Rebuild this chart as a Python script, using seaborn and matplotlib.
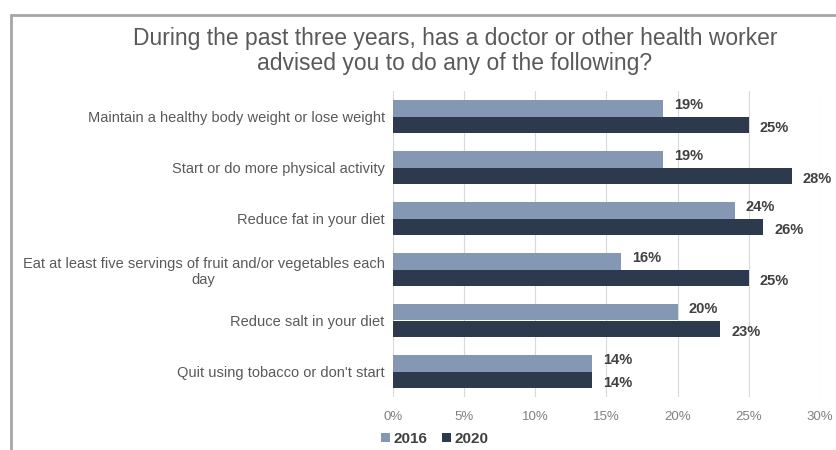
import matplotlib
matplotlib.use("Agg")
import matplotlib.pyplot as plt
from matplotlib.lines import Line2D
from matplotlib.ticker import FuncFormatter
import pandas as pd
import seaborn as sns

# Survey items (y axis) and the share of respondents advised, by year
categories = [
    "Maintain a healthy body weight or lose weight",
    "Start or do more physical activity",
    "Reduce fat in your diet",
    "Eat at least five servings of fruit and/or vegetables each\nday",
    "Reduce salt in your diet",
    "Quit using tobacco or don't start",
]
years = ["2016", "2020"]
values_2016 = [19, 19, 24, 16, 20, 14]
values_2020 = [25, 28, 26, 25, 23, 14]
x_ticks = [0, 5, 10, 15, 20, 25, 30]

title = ("During the past three years, has a doctor or other health worker\n"
         "advised you to do any of the following?")

df = pd.DataFrame({
    "item": categories * 2,
    "year": [years[0]] * len(categories) + [years[1]] * len(categories),
    "pct": values_2016 + values_2020,
})

sns.set_theme(style="white")
plt.rcParams["font.family"] = ["Liberation Sans", "DejaVu Sans"]

palette = {"2016": "#8497b3", "2020": "#2d3a4e"}
text_grey = "#595959"

fig = plt.figure(figsize=(8.37, 4.5), dpi=100)
ax = fig.add_axes([393 / 837, 1 - 397 / 450, (820 - 393) / 837, (397 - 91) / 450])

sns.barplot(data=df, y="item", x="pct", hue="year", order=categories,
            hue_order=years, palette=palette, orient="h", width=0.65,
            gap=0, saturation=1, linewidth=0, ax=ax, legend=True)

ax.set_xlim(0, 30)
ax.set_xticks(x_ticks)
ax.xaxis.set_major_formatter(FuncFormatter(lambda v, _: f"{v:.0f}%"))
ax.set_xlabel("")
ax.set_ylabel("")
ax.grid(axis="x", color="#d9d9d9", linewidth=0.8)
ax.grid(axis="y", visible=False)
ax.set_axisbelow(True)
for s in ax.spines.values():
    s.set_visible(False)
ax.tick_params(axis="x", length=0, pad=10, labelsize=9.5, labelcolor="#808080")
ax.tick_params(axis="y", length=0, pad=6, labelsize=10.5, labelcolor=text_grey)
for lbl in ax.get_yticklabels():
    lbl.set_multialignment("center")

# Value labels just past the end of each bar
for container, dy in zip(ax.containers, (2, -2)):
    anns = ax.bar_label(container, fmt="%d%%", padding=8, fontsize=10.5,
                        fontweight="bold", color="#404040")
    for a in anns:
        a.xyann = (a.xyann[0], dy)

leg = ax.legend(loc="center left", bbox_to_anchor=(381 / 837, 1 - 439 / 450),
                bbox_transform=fig.transFigure, ncol=2, frameon=False,
                handlelength=0.6, handleheight=0.6, handletextpad=0.25,
                columnspacing=0.9, borderaxespad=0, borderpad=0,
                prop={"size": 11, "weight": "bold"})
for t in leg.get_texts():
    t.set_color("#404040")

fig.text(455 / 837, 1 - 51 / 450, title, ha="center", va="center",
         multialignment="center", fontsize=16.5, color=text_grey,
         linespacing=1.1)

# Chart frame (top and left edges)
frame = dict(color="#a6a6a6", linewidth=2, transform=fig.transFigure)
fig.add_artist(Line2D([11 / 837, 1], [1 - 15 / 450] * 2, **frame))
fig.add_artist(Line2D([11 / 837] * 2, [0, 1 - 15 / 450], **frame))

fig.savefig("out.png", dpi=100, facecolor="white")
